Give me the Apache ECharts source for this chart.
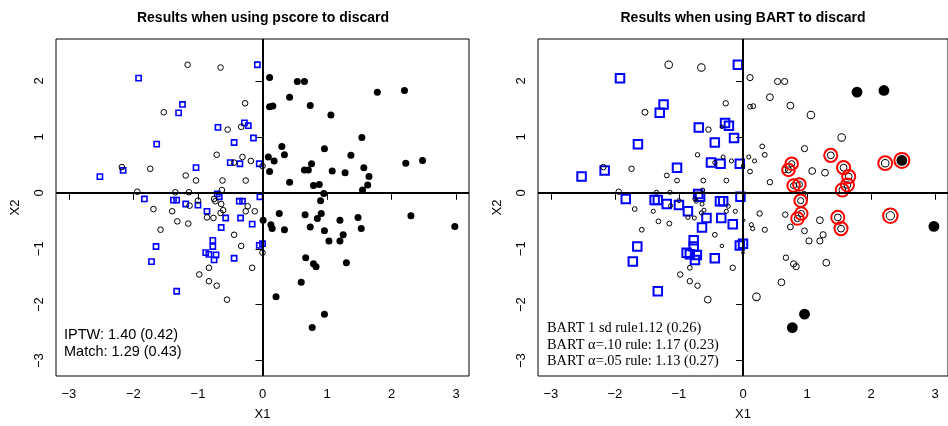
<!DOCTYPE html>
<html><head><meta charset="utf-8">
<script src="https://cdn.jsdelivr.net/npm/echarts@6/dist/echarts.min.js"></script>
<style>html,body{margin:0;padding:0;background:#fff}#c{width:948px;height:426px}</style>
</head><body><div id="c"></div>
<script>
// ---- data ----
const xTicks = [-3, -2, -1, 0, 1, 2, 3];
const yTicks = [-3, -2, -1, 0, 1, 2];
const panelTitles = ['Results when using pscore to discard', 'Results when using BART to discard'];
const axisTitles = ['X1', 'X2'];
const leftNotes = ['IPTW: 1.40 (0.42)', 'Match: 1.29 (0.43)'];
const rightNotes = ['BART 1 sd rule1.12 (0.26)', 'BART \u03b1=.10 rule: 1.17 (0.23)', 'BART \u03b1=.05 rule: 1.13 (0.27)'];

// blue squares [X1, X2]
const blueSquares = [
 [-1.92,2.05],[-0.08,2.29],[-1.24,1.58],[-1.30,1.43],[-0.69,1.17],[-0.28,1.25],[-0.22,1.20],[-0.14,0.98],
 [-0.44,0.90],[-1.64,0.87],[-1.03,0.45],[-0.50,0.54],[-0.35,0.52],[-0.05,0.52],[-2.16,0.40],[-2.52,0.29],
 [-1.83,-0.11],[-1.38,-0.13],[-1.33,-0.13],[-1.19,-0.20],[-1.00,-0.22],[-0.86,-0.33],[-0.70,-0.02],[-0.67,-0.07],
 [-0.36,-0.15],[-0.31,-0.15],[-0.04,-0.07],[-0.57,-0.45],[-0.34,-0.45],[-0.16,-0.56],[-0.64,-0.62],[-0.77,-0.85],
 [-1.65,-0.96],[-0.77,-0.96],[-0.05,-0.94],[0.00,-0.91],[-0.88,-1.07],[-0.83,-1.10],[-0.72,-1.11],[-0.75,-1.20],
 [-0.44,-1.17],[-1.72,-1.23],[-1.33,-1.76]
];
// open circles [X1, X2, cex in BART panel]
const openCircles = [
 [-1.16,2.29,1.23],[-0.65,2.24,1.23],[-0.27,1.60,0.92],[-1.53,1.44,1.0],[-0.54,1.13,0.92],[-0.33,1.18,0.62],
 [-0.71,0.68,0.77],[-0.31,0.64,0.72],[-0.18,0.57,0.72],[-0.44,0.54,0.72],[0.00,0.48,0.62],[-2.18,0.46,0.92],
 [-1.74,0.43,0.92],[-1.19,0.31,0.82],[-1.03,0.22,0.82],[-0.62,0.22,0.82],[-0.26,0.22,0.82],[-1.94,0.02,0.92],
 [-1.35,0.01,0.72],[-1.14,0.01,0.72],[-0.63,0.05,0.72],[-0.75,-0.11,0.72],[-0.73,-0.15,0.72],[-1.00,-0.14,0.72],
 [-1.69,-0.29,0.82],[-1.40,-0.33,0.72],[-1.13,-0.23,0.72],[-0.64,-0.20,0.72],[-0.23,-0.24,0.72],[-0.26,-0.33,0.72],
 [-0.12,-0.33,0.72],[-0.65,-0.36,0.72],[-0.61,-0.31,0.72],[-0.86,-0.44,0.72],[-0.76,-0.45,0.72],[-1.32,-0.51,0.82],
 [-1.15,-0.55,0.82],[-1.58,-0.66,0.82],[-0.44,-0.75,0.82],[-0.33,-0.95,0.62],[0.00,-1.07,0.54],[-0.83,-1.34,0.82],
 [-0.16,-1.34,0.92],[-0.98,-1.46,0.92],[-0.83,-1.58,0.92],[-0.71,-1.66,0.92],[-0.55,-1.91,1.12]
];
// treated [X1, X2, cex in BART panel, status: 0 kept, 1 red ring, 2 discarded (filled), 3 filled + ring]
const treated = [
 [0.11,2.06,1.03,0],[0.54,1.99,1.03,0],[0.65,1.99,1.03,0],[1.78,1.80,1.5,2],[2.20,1.83,1.5,2],[0.42,1.71,1.12,0],
 [0.11,1.54,0.82,0],[0.16,1.55,0.82,0],[0.74,1.56,1.12,0],[1.06,1.39,1.23,0],[1.54,0.99,1.23,0],[0.30,0.83,0.82,0],
 [0.96,0.79,1.03,0],[0.34,0.68,0.82,0],[1.37,0.67,1.12,1],[0.09,0.64,0.72,0],[0.18,0.57,0.72,0],[0.76,0.52,1.03,1],
 [2.22,0.53,1.23,1],[2.48,0.58,1.5,3],[0.11,0.38,0.82,0],[0.65,0.41,0.92,0],[0.71,0.41,1.03,1],[1.08,0.39,1.12,0],
 [1.28,0.36,1.12,0],[1.57,0.45,1.12,1],[1.65,0.29,1.12,1],[0.42,0.19,0.92,0],[0.79,0.13,1.03,1],[0.88,0.15,1.03,1],
 [1.63,0.14,1.12,1],[1.55,0.05,1.12,1],[0.95,-0.01,0.77,0],[0.90,-0.14,1.03,1],[0.26,-0.37,0.92,0],[0.66,-0.39,0.92,0],
 [0.91,-0.37,1.03,1],[0.85,-0.46,1.03,1],[1.48,-0.44,1.12,1],[2.30,-0.41,1.34,1],[0.01,-0.49,0.51,0],[0.13,-0.57,0.72,0],
 [0.15,-0.64,0.72,0],[0.34,-0.66,0.88,0],[0.74,-0.61,0.97,0],[1.20,-0.49,1.12,0],[0.96,-0.68,0.97,0],[1.53,-0.64,1.12,1],
 [1.25,-0.75,1.03,0],[1.03,-0.86,1.03,0],[1.20,-0.86,1.03,0],[2.98,-0.60,1.5,2],[0.67,-1.16,0.92,0],[0.79,-1.27,1.03,0],
 [0.83,-1.32,1.03,0],[1.30,-1.25,1.12,0],[0.60,-1.60,1.12,0],[0.21,-1.86,1.23,0],[0.96,-2.17,1.5,2],[0.77,-2.41,1.5,2]
];

// ---- chart ----
const SANS = 'Liberation Sans, Arial, Helvetica, sans-serif';
const SERIF = 'Liberation Serif, Times New Roman, DejaVu Serif, serif';
const fmt = v => (v < 0 ? '\u2212' + Math.abs(v) : String(v));
const none = 'rgba(0,0,0,0)';

function xAx(gi) {
  return {
    type: 'value', gridIndex: gi, min: -3.2, max: 3.2,
    axisLine: { show: false }, splitLine: { show: false },
    axisTick: { show: true, customValues: xTicks, length: 7, lineStyle: { color: '#000', width: 1 } },
    axisLabel: { customValues: xTicks, formatter: fmt, color: '#000', fontSize: 13, fontFamily: SANS, margin: 12 },
    name: axisTitles[0], nameLocation: 'middle', nameGap: 32,
    nameTextStyle: { color: '#000', fontSize: 13, fontFamily: SANS }
  };
}
function yAx(gi) {
  return {
    type: 'value', gridIndex: gi, min: -3.275, max: 2.75,
    axisLine: { show: false }, splitLine: { show: false },
    axisTick: { show: true, customValues: yTicks, length: 7, lineStyle: { color: '#000', width: 1 } },
    axisLabel: { customValues: yTicks, formatter: fmt, color: '#000', fontSize: 13, fontFamily: SANS, rotate: 90, margin: 10 },
    name: axisTitles[1], nameLocation: 'middle', nameGap: 34,
    nameTextStyle: { color: '#000', fontSize: 13, fontFamily: SANS }
  };
}
const zeroLines = {
  silent: true, symbol: ['none', 'none'], label: { show: false },
  lineStyle: { color: '#000', width: 2, type: 'solid', opacity: 1 },
  data: [{ xAxis: 0 }, { yAxis: 0 }]
};

const base = { type: 'scatter', silent: true, animation: false };
const st = (o) => Object.assign({ opacity: 1 }, o);
const series = [
  // left panel
  Object.assign({}, base, { xAxisIndex: 0, yAxisIndex: 0, data: blueSquares, symbol: 'rect', symbolSize: 5.2,
    itemStyle: st({ color: none, borderColor: '#0000FF', borderWidth: 1.6 }), markLine: zeroLines }),
  Object.assign({}, base, { xAxisIndex: 0, yAxisIndex: 0, data: openCircles.map(d => [d[0], d[1]]), symbol: 'circle', symbolSize: 5.6,
    itemStyle: st({ color: none, borderColor: '#000', borderWidth: 1 }) }),
  Object.assign({}, base, { xAxisIndex: 0, yAxisIndex: 0, data: treated.map(d => [d[0], d[1]]), symbol: 'circle', symbolSize: 7,
    itemStyle: st({ color: '#000' }) }),
  // right panel
  Object.assign({}, base, { xAxisIndex: 1, yAxisIndex: 1, data: blueSquares, symbol: 'rect', symbolSize: 8.5,
    itemStyle: st({ color: none, borderColor: '#0000FF', borderWidth: 2 }), markLine: zeroLines }),
  Object.assign({}, base, { xAxisIndex: 1, yAxisIndex: 1, data: openCircles, symbol: 'circle', symbolSize: d => d[2] * 6.8 - 0.8,
    itemStyle: st({ color: none, borderColor: '#000', borderWidth: 1 }) }),
  Object.assign({}, base, { xAxisIndex: 1, yAxisIndex: 1, data: treated.filter(d => d[3] < 2), symbol: 'circle', symbolSize: d => d[2] * 6.8 - 0.8,
    itemStyle: st({ color: none, borderColor: '#000', borderWidth: 1 }) }),
  Object.assign({}, base, { xAxisIndex: 1, yAxisIndex: 1, data: treated.filter(d => d[3] >= 2), symbol: 'circle', symbolSize: 10.8,
    itemStyle: st({ color: '#000' }) }),
  Object.assign({}, base, { xAxisIndex: 1, yAxisIndex: 1, data: treated.filter(d => d[3] === 1 || d[3] === 3), symbol: 'circle',
    symbolSize: d => (d[3] === 3 ? 15 : d[2] * 6.8 + 5.5),
    itemStyle: st({ color: none, borderColor: '#FF0000', borderWidth: 2 }) })
];

const graphic = [
  { type: 'text', x: 263, y: 18, style: { text: panelTitles[0], font: 'bold 14px ' + SANS, fill: '#000', textAlign: 'center', textVerticalAlign: 'middle' } },
  { type: 'text', x: 743, y: 18, style: { text: panelTitles[1], font: 'bold 14px ' + SANS, fill: '#000', textAlign: 'center', textVerticalAlign: 'middle' } }
];
leftNotes.forEach((t, i) => graphic.push({ type: 'text', x: 64, y: 335 + i * 17,
  style: { text: t, font: '14.5px ' + SANS, fill: '#000', textAlign: 'left', textVerticalAlign: 'middle' } }));
rightNotes.forEach((t, i) => graphic.push({ type: 'text', x: 547, y: 328.5 + i * 16.6,
  style: { text: t, font: '14.4px ' + SERIF, fill: '#000', textAlign: 'left', textVerticalAlign: 'middle' } }));

const chart = echarts.init(document.getElementById('c'), null, { renderer: 'canvas' });
chart.setOption({
  backgroundColor: '#fff',
  animation: false,
  grid: [
    { left: 56, top: 39, width: 413, height: 338, show: true, borderColor: '#000', borderWidth: 1, backgroundColor: none, containLabel: false },
    { left: 538, top: 39, width: 413, height: 338, show: true, borderColor: '#000', borderWidth: 1, backgroundColor: none, containLabel: false }
  ],
  xAxis: [xAx(0), xAx(1)],
  yAxis: [yAx(0), yAx(1)],
  series: series,
  graphic: graphic
});
</script></body></html>
